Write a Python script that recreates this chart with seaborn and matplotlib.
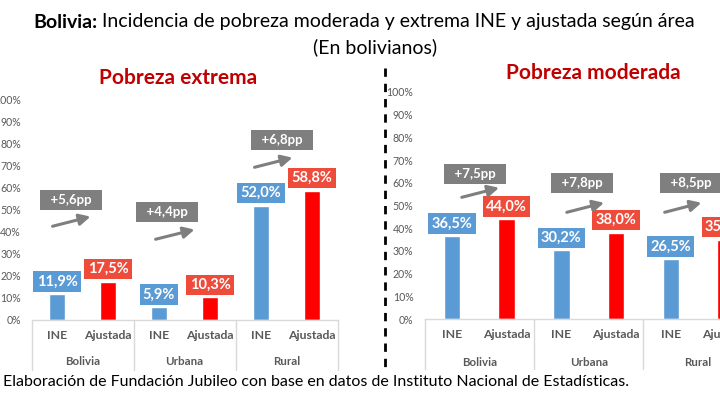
import matplotlib
matplotlib.use("Agg")
import matplotlib.pyplot as plt
import seaborn as sns
import pandas as pd
from matplotlib.lines import Line2D

sns.set_theme(style="white")
plt.rcParams['font.family'] = ['Lato', 'DejaVu Sans']

# ---------------- data ----------------
areas = ["Bolivia", "Urbana", "Rural"]
series = ["INE", "Ajustada"]
extrema_ine = [11.9, 5.9, 52.0]
extrema_ajustada = [17.5, 10.3, 58.8]
moderada_ine = [36.5, 30.2, 26.5]
moderada_ajustada = [44.0, 38.0, 35.0]
extrema_pp = ["+5,6pp", "+4,4pp", "+6,8pp"]
moderada_pp = ["+7,5pp", "+7,8pp", "+8,5pp"]
yticks = [0, 10, 20, 30, 40, 50, 60, 70, 80, 90, 100]

BLUE = "#5B9BD5"
RED = "#FF0000"
RED_LBL = "#EF4B3A"
GREY = "#7F7F7F"
TICK = "#595959"


def make_df(ine, aju):
    rows = []
    for a, v1, v2 in zip(areas, ine, aju):
        rows.append({"key": a + "-INE", "serie": "INE", "value": v1})
        rows.append({"key": a + "-Ajustada", "serie": "Ajustada", "value": v2})
    return pd.DataFrame(rows)


fig = plt.figure(figsize=(7.2, 3.99), dpi=100)

# axes rectangles (figure fraction)
ax1 = fig.add_axes([31.5 / 720, 79 / 399, 306 / 720, 220 / 399])
ax2 = fig.add_axes([424.6 / 720, 80 / 399, 328.2 / 720, 227 / 399])

# annotation layout: (box x, box y, arrow start x,y, arrow end x,y) in data coords
layout1 = [(0.27, 54.5, -0.14, 42.3, 0.71, 47.3),
           (2.16, 49.1, 1.88, 36.4, 2.75, 41.4),
           (4.41, 81.8, 3.82, 69.1, 4.67, 74.1)]
layout2 = [(0.42, 63.9, 0.13, 53.3, 0.91, 58.1),
           (2.38, 59.9, 2.05, 46.7, 2.83, 51.5),
           (4.37, 59.9, 3.84, 46.7, 4.61, 51.5)]


def draw(ax, ine, aju, pps, layout, width, tickpad, sep_depth):
    df = make_df(ine, aju)
    sns.barplot(data=df, x="key", y="value", hue="serie",
                palette={"INE": BLUE, "Ajustada": RED}, dodge=False,
                width=width, ax=ax, legend=False, saturation=1)
    ax.set_xlim(-0.5, 5.5)
    ax.set_ylim(0, 100)
    ax.set_yticks(yticks)
    ax.set_yticklabels([f"{t}%" for t in yticks], color=TICK, fontsize=7.6)
    ax.tick_params(axis="y", length=0, pad=tickpad)
    ax.set_xticks(range(6))
    ax.set_xticklabels(series * 3, color=TICK, fontsize=8.8, fontweight="bold")
    ax.tick_params(axis="x", length=0, pad=7)
    ax.set_xlabel("")
    ax.set_ylabel("")
    for s in ["top", "right", "left"]:
        ax.spines[s].set_visible(False)
    ax.spines["bottom"].set_color("#D9D9D9")
    ax.spines["bottom"].set_linewidth(1)
    trans = ax.get_xaxis_transform()
    for b in [-0.5, 1.5, 3.5, 5.5]:
        ax.plot([b, b], [0, -sep_depth], transform=trans, color="#D9D9D9",
                lw=1, clip_on=False)
    for i, a in enumerate(areas):
        ax.text(2 * i + 0.5, -0.19, a, transform=trans, ha="center",
                va="center", color=TICK, fontsize=8.3, fontweight="bold")
    # value labels
    vals = []
    for v1, v2 in zip(ine, aju):
        vals += [(v1, BLUE), (v2, RED_LBL)]
    for i, (v, c) in enumerate(vals):
        ax.annotate(f"{v:.1f}%".replace(".", ","), xy=(i, v),
                    xytext=(0, 9), textcoords="offset points",
                    ha="center", va="center", color="white",
                    fontsize=10.5, fontweight="bold", annotation_clip=False,
                    bbox=dict(boxstyle="square,pad=0.22", fc=c, ec="none"))
    # pp boxes and arrows
    for txt, (bx, by, x0, y0, x1, y1) in zip(pps, layout):
        ax.text(bx, by, "  " + txt + "  ", ha="center", va="center",
                color="white", fontsize=9.5, fontweight="bold", clip_on=False,
                bbox=dict(boxstyle="square,pad=0.3", fc=GREY, ec="none"))
        ax.annotate("", xy=(x1, y1), xytext=(x0, y0),
                    arrowprops=dict(arrowstyle="-|>,head_length=0.55,head_width=0.28",
                                    color=GREY, lw=2.2), annotation_clip=False)


draw(ax1, extrema_ine, extrema_ajustada, extrema_pp, layout1, 0.33, 7.5, 0.227)
draw(ax2, moderada_ine, moderada_ajustada, moderada_pp, layout2, 0.30, 8, 0.22)

# titles
t1 = fig.text(33 / 720, 1 - 22 / 399, "Bolivia:", fontsize=14,
              fontweight="bold", ha="left", va="center", color="black")
fig.canvas.draw()
bb = t1.get_window_extent(renderer=fig.canvas.get_renderer())
fig.text(bb.x1 / fig.bbox.width + 5 / 720, 1 - 22 / 399,
         "Incidencia de pobreza moderada y extrema INE y ajustada según área",
         fontsize=14, ha="left", va="center", color="black")
fig.text(375 / 720, 1 - 47 / 399, "(En bolivianos)", fontsize=14,
         ha="center", va="center", color="black")
fig.text(178 / 720, 1 - 78 / 399, "Pobreza extrema", fontsize=15,
         fontweight="bold", ha="center", va="center", color="#C00000")
fig.text(593 / 720, 1 - 73 / 399, "Pobreza moderada", fontsize=15,
         fontweight="bold", ha="center", va="center", color="#C00000")
fig.text(3 / 720, 1 - 382 / 399,
         "Elaboración de Fundación Jubileo con base en datos de Instituto Nacional de Estadísticas.",
         fontsize=11.5, ha="left", va="center", color="black")

# dashed divider
fig.add_artist(Line2D([385 / 720, 385 / 720], [1 - 68 / 399, 1 - 372 / 399],
                      transform=fig.transFigure, color="black", lw=2,
                      linestyle=(0, (3, 2.5))))

fig.savefig("out.png", dpi=100)
